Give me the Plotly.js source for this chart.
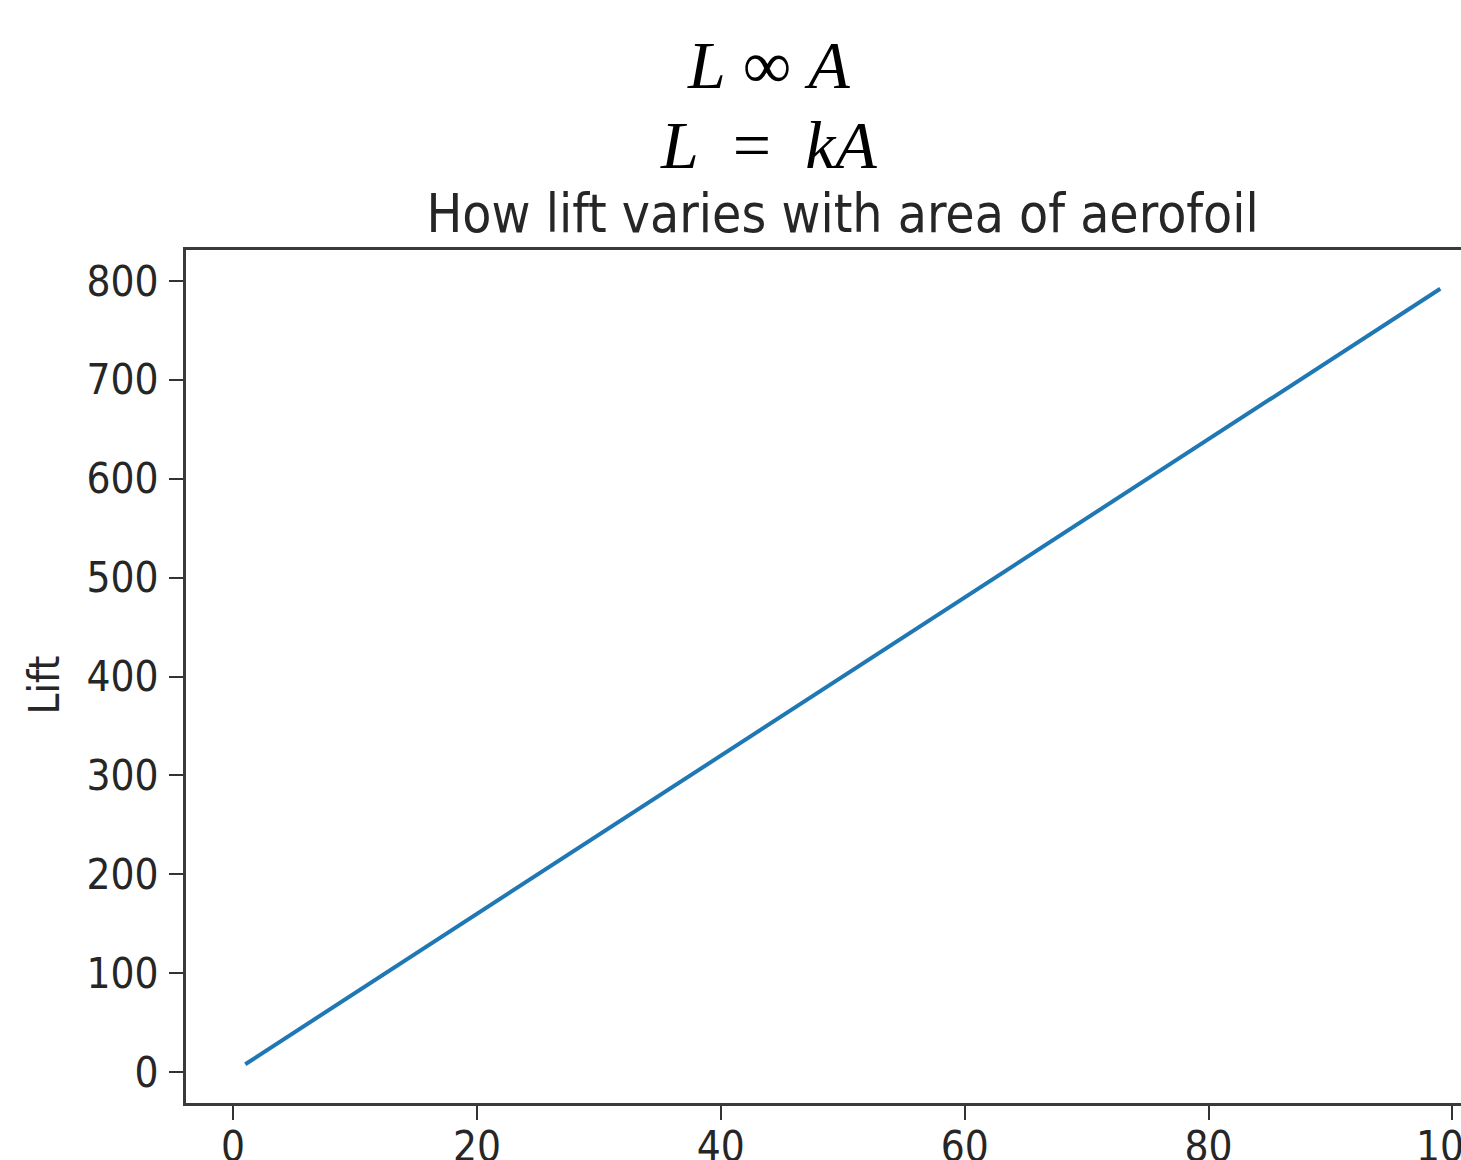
<!DOCTYPE html>
<html>
<head>
<meta charset="utf-8">
<script src="https://cdn.plot.ly/plotly-3.0.1.min.js"></script>
<style>
  html, body { margin: 0; padding: 0; background: #fff; }
  #chart { width: 1461px; height: 1160px; }
</style>
</head>
<body>
<div id="chart"></div>
<script>
// area of aerofoil vs lift (L = kA)
let area = [1, 10, 20, 30, 40, 50, 60, 70, 80, 90, 99];
let lift = [8, 80, 160, 240, 320, 400, 480, 560, 640, 720, 792];

let xTicks = [0, 20, 40, 60, 80, 100];
let yTicks = [0, 100, 200, 300, 400, 500, 600, 700, 800];

let data = [{
    x: area,
    y: lift,
    mode: 'lines',
    type: 'scatter',
    line: { color: '#1f77b4', width: 4 },
    hoverinfo: 'none'
}];

let sans = 'DejaVu Sans Condensed, DejaVu Sans';
let tickFont = { family: sans, size: 42, color: '#262626' };

// the last x tick label sits on the cut edge, plotly drops it, so put it back by hand
let edgeLabel = xTicks[xTicks.length - 1];

let layout = {
    width: 1461,
    height: 1160,
    paper_bgcolor: '#ffffff',
    plot_bgcolor: '#ffffff',
    showlegend: false,
    margin: { l: 186, r: 0, t: 250, b: 57 },
    title: {
        text: 'How lift varies with area of aerofoil',
        font: { family: sans, size: 53, color: '#262626' },
        xref: 'paper', x: 0.515, xanchor: 'center',
        yref: 'paper', y: 1, yanchor: 'bottom',
        pad: { b: 18 }
    },
    xaxis: {
        range: [-3.86, 100.7],
        tickvals: xTicks,
        ticktext: xTicks.map(String),
        ticks: 'outside', ticklen: 14, tickwidth: 2, tickcolor: '#333',
        ticklabelstandoff: -9,
        showline: true, linecolor: '#3a3a3a', linewidth: 3, mirror: true,
        showgrid: false, zeroline: false,
        tickfont: tickFont
    },
    yaxis: {
        range: [-31.2, 831.2],
        tickvals: yTicks,
        ticktext: yTicks.map(String),
        ticks: 'outside', ticklen: 14, tickwidth: 2, tickcolor: '#333',
        ticklabelstandoff: 2,
        showline: true, linecolor: '#3a3a3a', linewidth: 3, mirror: false,
        showgrid: false, zeroline: false,
        tickfont: tickFont
    },
    annotations: [
        {
            text: '<i>L</i> ∞ <i>A</i>',
            xref: 'paper', yref: 'paper', x: 0.4565, y: 1, xanchor: 'center', yanchor: 'bottom',
            yshift: 145, showarrow: false,
            font: { family: 'Liberation Serif', size: 68, color: '#000' }
        },
        {
            text: '<i>L</i>  =  <i>kA</i>',
            xref: 'paper', yref: 'paper', x: 0.4565, y: 1, xanchor: 'center', yanchor: 'bottom',
            yshift: 65, showarrow: false,
            font: { family: 'Liberation Serif', size: 68, color: '#000' }
        },
        {
            // y axis title, placed by hand to sit where the reference has it
            text: 'Lift',
            xref: 'paper', yref: 'paper', x: 0, y: 0.5, xanchor: 'center', yanchor: 'middle',
            xshift: -142, yshift: -9, textangle: -90, showarrow: false,
            font: { family: sans, size: 42, color: '#262626' }
        },
        {
            text: String(edgeLabel),
            xref: 'x', yref: 'paper', x: edgeLabel, y: 0, xanchor: 'center', yanchor: 'top',
            yshift: -17, showarrow: false,
            font: tickFont
        }
    ]
};

Plotly.newPlot('chart', data, layout, { staticPlot: true, displayModeBar: false });
</script>
</body>
</html>
